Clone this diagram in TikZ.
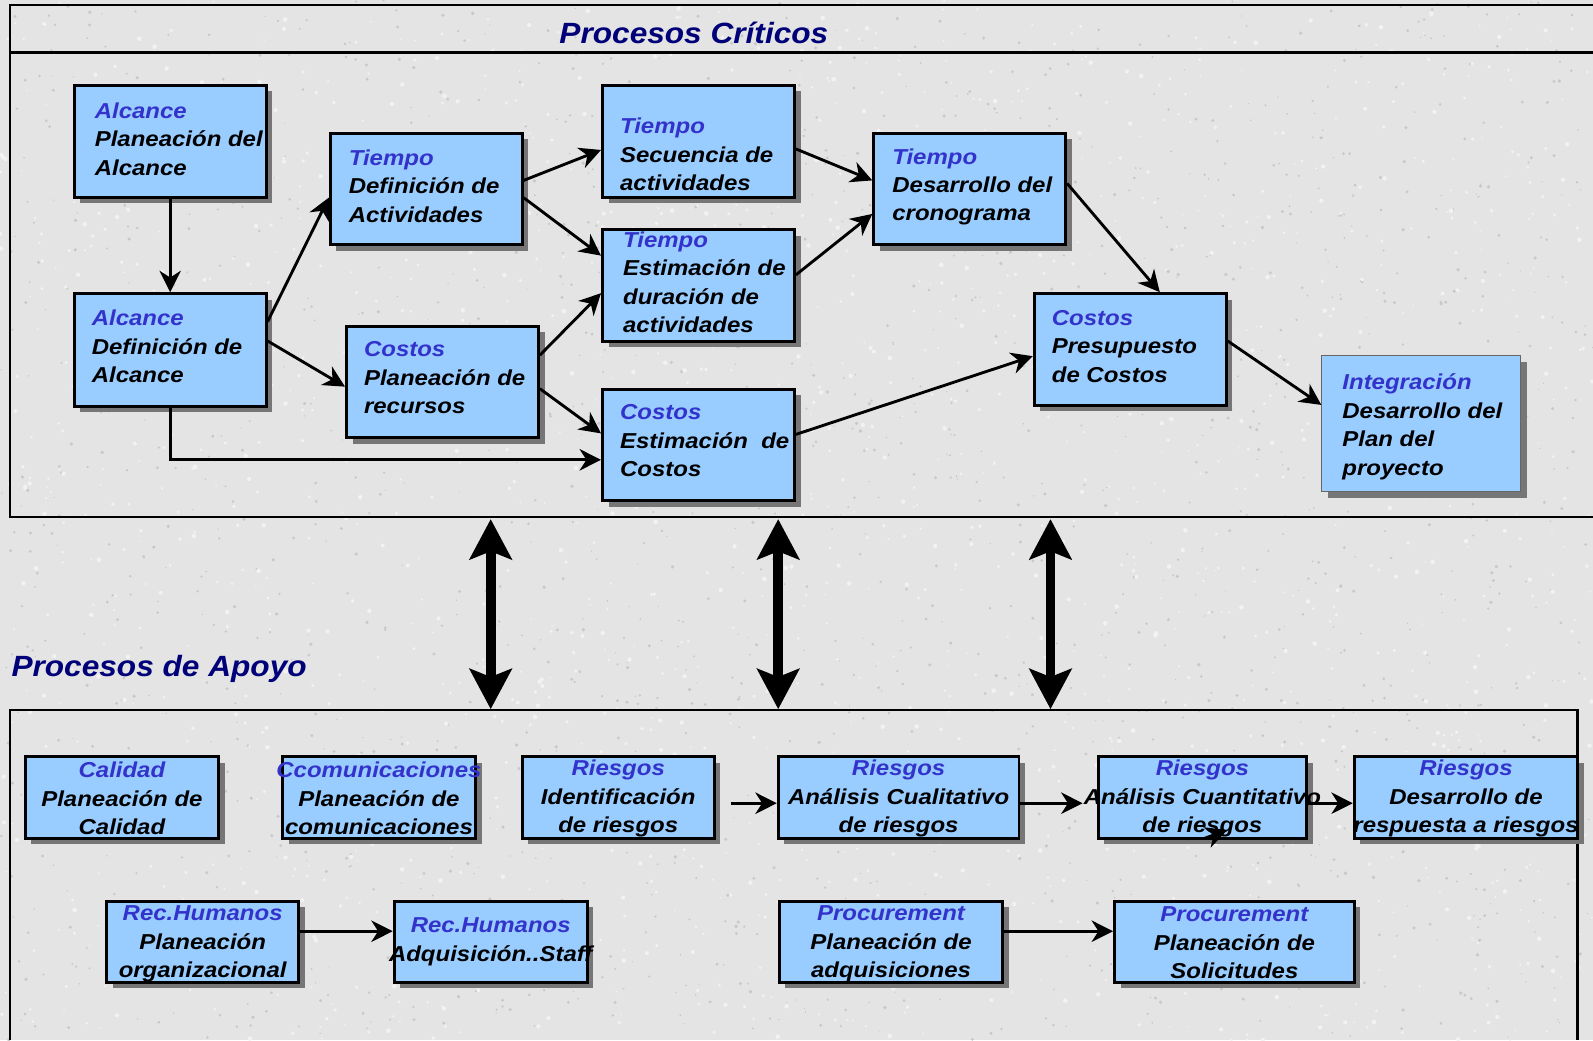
\documentclass[tikz,border=0pt]{standalone}
\usepackage{fontspec}
\setmainfont{Liberation Sans}
\newfontfamily\boxfont[FakeStretch=1.11]{Liberation Sans}
\newfontfamily\headfont[FakeStretch=1.08]{Liberation Sans}
\usetikzlibrary{arrows.meta,calc,shadows,fit}

\definecolor{boxblue}{RGB}{153,204,255}
\definecolor{catblue}{RGB}{51,51,204}
\definecolor{headnavy}{RGB}{0,0,120}
\definecolor{shadowgray}{RGB}{118,118,118}
\definecolor{paper}{RGB}{228,228,228}
\definecolor{fleckdark}{RGB}{200,200,200}
\definecolor{flecklight}{RGB}{242,242,242}
\newcommand\cat[1]{\textcolor{catblue}{#1}}

\begin{document}
\begin{tikzpicture}[x=0.02cm,y=-0.02cm,
  frame/.style={line width=1.5pt},
  box/.style={draw=black,line width=1.6pt,fill=boxblue,inner sep=0pt,
    general shadow={fill=shadowgray,shadow xshift=3.4pt,shadow yshift=-3.4pt}},
  softbox/.style={draw=black!60,line width=0.5pt,fill=boxblue,inner sep=0pt,
    general shadow={fill=shadowgray,shadow xshift=3.4pt,shadow yshift=-3.4pt}},
  ttxt/.style={font=\boxfont\fontsize{12.1pt}{15.93pt}\selectfont\bfseries\itshape,
    align=left,anchor=west,inner sep=0pt},
  btxt/.style={font=\boxfont\fontsize{12.1pt}{15.93pt}\selectfont\bfseries\itshape,
    align=center,inner sep=0pt},
  conn/.style={line width=1.6pt,-{Stealth[length=12pt,width=12pt,inset=3.8pt]}},
  link/.style={line width=5.4pt,
    {Stealth[length=22.5pt,width=23.5pt,inset=4.5pt]}-{Stealth[length=22.5pt,width=23.5pt,inset=4.5pt]}},
  head/.style={font=\headfont\fontsize{16.4pt}{19pt}\selectfont\bfseries\itshape,
    text=headnavy,inner sep=0pt}
]
% page and paper
\fill[paper] (0,0) rectangle (1568,1024);
\useasboundingbox (0,0) rectangle (1568,1024);
\begin{scope}
\clip (0,0) rectangle (1568,1024);

% fine granite-like mottling on the paper
\pgfmathsetseed{12}
\fill[fleckdark] foreach \i in {1,...,1800} {({rnd*1568},{rnd*1024}) circle[radius={0.6+rnd*1.2}]};
\fill[flecklight] foreach \i in {1,...,1800} {({rnd*1568},{rnd*1024}) circle[radius={0.8+rnd*1.5}]};

% frames of the two sections
\draw[frame] (1568,5) -- (10,5) -- (10,509) -- (1568,509);
\draw[frame] (10,52) -- (1568,52);
\draw[frame] (10,1024) -- (10,699) -- (1553,699) -- (1553,1024);

\node[head,anchor=base] (title1) at (683,43) {Procesos Críticos};
\node[head,anchor=base west] (title2) at (11,666) {Procesos de Apoyo};

% critical processes
\node[box,fit={(73,84) (262,194)}]   (B1) {};
\node[box,fit={(73,289) (262,400)}]  (B2) {};
\node[box,fit={(325,131) (514,241)}] (B3) {};
\node[box,fit={(341,321) (530,431)}] (B4) {};
\node[box,fit={(593,84) (782,194)}]  (B5) {};
\node[box,fit={(593,226) (782,336)}] (B6) {};
\node[box,fit={(593,383) (782,493)}] (B7) {};
\node[box,fit={(860,131) (1049,241)}] (B8) {};
\node[box,fit={(1018,289) (1207,399)}] (B9) {};
\node[softbox,fit={(1301,350) (1497,484)}] (B10) {};

% support processes
\node[box,fit={(25,745) (215,825)}]    (C1) {};
\node[box,fit={(278,745) (468,825)}]   (C2) {};
\node[box,fit={(514,745) (703,825)}]   (C3) {};
\node[box,fit={(766,745) (1003,825)}]  (C4) {};
\node[box,fit={(1081,745) (1286,825)}] (C5) {};
\node[box,fit={(1333,745) (1553,825)}] (C6) {};
\node[box,fit={(105,887) (294,967)}]   (C7) {};
\node[box,fit={(388,887) (578,967)}]   (C8) {};
\node[box,fit={(767,887) (987,967)}]   (C9) {};
\node[box,fit={(1097,887) (1333,967)}] (C10) {};

% flow between critical processes
\draw[conn] (B1) -- (B2);
\draw[conn] ($(B2.north east)+(0,29)$) -- ($(B3.north west)+(0,65)$);
\draw[conn] ($(B2.north east)+(0,48)$) -- ($(B4.north west)+(0,61)$);
\draw[conn] (B2.south) |- ($(B7.north west)+(0,71)$);
\draw[conn] ($(B3.north east)+(0,48)$) -- ($(B5.north west)+(0,65)$);
\draw[conn] ($(B3.north east)+(0,65)$) -- ($(B6.north west)+(0,27)$);
\draw[conn] ($(B4.north east)+(0,30)$) -- ($(B6.north west)+(0,64)$);
\draw[conn] ($(B4.north east)+(0,63)$) -- ($(B7.north west)+(0,45)$);
\draw[conn] ($(B5.north east)+(0,64)$) -- ($(B8.north west)+(0,48)$);
\draw[conn] ($(B6.north east)+(0,46)$) -- ($(B8.north west)+(0,81)$);
\draw[conn] ($(B8.north east)+(0,51)$) -- ($(B9.north west)+(125,0)$);
\draw[conn] ($(B7.north east)+(0,46)$) -- ($(B9.north west)+(0,63)$);
\draw[conn] ($(B9.north east)+(0,48)$) -- ($(B10.north west)+(0,49)$);

% flow between support processes
\draw[conn] ($(C3.north east)+(15,47)$) -- ($(C4.north west)+(0,47)$);
\draw[conn] ($(C4.north east)+(0,47)$) -- ($(C5.north west)+(-14,47)$);
\draw[conn] ($(C5.north east)+(0,47)$) -- ($(C6.north west)+(0,47)$);
\draw[conn] ($(C7.north east)+(0,31)$) -- ($(C8.north west)+(0,31)$);
\draw[conn] ($(C9.north east)+(0,31)$) -- ($(C10.north west)+(0,31)$);
\coordinate (s1) at (1186,825);
\coordinate (s2) at (1208,817);
\draw[conn] (s1) -- (s2);

% links between the two sections
\coordinate (u1) at (483,511); \coordinate (d1) at (483,698);
\coordinate (u2) at (766,511); \coordinate (d2) at (766,698);
\coordinate (u3) at (1034,511); \coordinate (d3) at (1034,698);
\draw[link] (u1) -- (d1);
\draw[link] (u2) -- (d2);
\draw[link] (u3) -- (d3);

% texts of the critical processes
\node[ttxt] (B1t) at (93,137) {\cat{Alcance}\\Planeación del\\Alcance};
\node[ttxt] (B2t) at (90,341) {\cat{Alcance}\\Definición de\\Alcance};
\node[ttxt] (B3t) at (343,183) {\cat{Tiempo}\\Definición de\\Actividades};
\node[ttxt] (B4t) at (358,372) {\cat{Costos}\\Planeación de\\recursos};
\node[ttxt] (B5t) at (610,152) {\cat{Tiempo}\\Secuencia de\\actividades};
\node[ttxt] (B6t) at (613,278) {\cat{Tiempo}\\Estimación de\\duración de\\actividades};
\node[ttxt] (B7t) at (610,434) {\cat{Costos}\\Estimación\ \ de\\Costos};
\node[ttxt] (B8t) at (878,184) {\cat{Tiempo}\\Desarrollo del\\cronograma};
\node[ttxt] (B9t) at (1035,341) {\cat{Costos}\\Presupuesto\\de Costos};
\node[ttxt] (B10t) at (1321,420) {\cat{Integración}\\Desarrollo del\\Plan del\\proyecto};

% texts of the support processes
\node[btxt] (C1t) at ($(C1.center)+(0,1)$) {\cat{Calidad}\\Planeación de\\Calidad};
\node[btxt] (C2t) at ($(C2.center)+(0,1)$) {\cat{Ccomunicaciones}\\Planeación de\\comunicaciones};
\node[btxt] (C3t) at ($(C3.center)+(0,1)$) {\cat{Riesgos}\\Identificación\\de riesgos};
\node[btxt] (C4t) at ($(C4.center)+(0,1)$) {\cat{Riesgos}\\Análisis Cualitativo\\de riesgos};
\node[btxt] (C5t) at ($(C5.center)+(0,1)$) {\cat{Riesgos}\\Análisis Cuantitativo\\de riesgos};
\node[btxt] (C6t) at ($(C6.center)+(0,1)$) {\cat{Riesgos}\\Desarrollo de\\respuesta a riesgos};
\node[btxt] (C7t) at ($(C7.center)+(0,2)$) {\cat{Rec.Humanos}\\Planeación\\organizacional};
\node[btxt] (C8t) at ($(C8.center)+(0,0)$) {\cat{Rec.Humanos}\\Adquisición..Staff};
\node[btxt] (C9t) at ($(C9.center)+(0,2)$) {\cat{Procurement}\\Planeación de\\adquisiciones};
\node[btxt] (C10t) at ($(C10.center)+(0,1)$) {\cat{Procurement}\\Planeación de\\Solicitudes};
\end{scope}
\end{tikzpicture}
\end{document}
